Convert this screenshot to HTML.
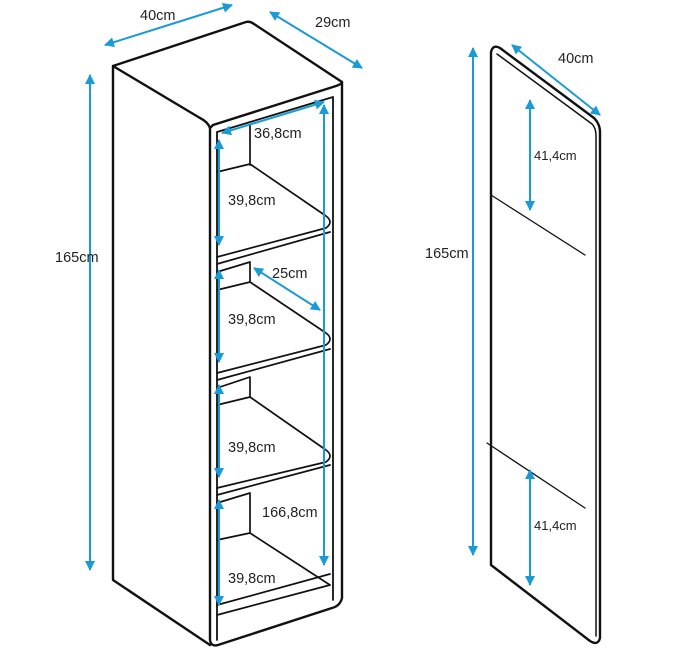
<!DOCTYPE html>
<html><head><style>html,body{margin:0;padding:0;background:#fff}svg{display:block}text{font-family:"Liberation Sans",sans-serif;font-size:14.5px;fill:#222}</style></head>
<body>
<svg width="684" height="650" viewBox="0 0 684 650">
<defs>
<marker id="a" markerWidth="10" markerHeight="10" refX="9" refY="5" orient="auto-start-reverse" markerUnits="userSpaceOnUse"><path d="M0,0 L10,5 L0,10 z" fill="#1a9ad6"/></marker>
</defs>
<g fill="none" stroke="#111" stroke-width="2.4" stroke-linejoin="round" stroke-linecap="round">
<!-- cabinet -->
<path d="M113,66 L246,22 Q250,21 254,24 L342,82 L342,598 Q340,606 332,608 L218,645 Q211,647 210,640 L210,128 Q208,122 200,118 Z"/>
<path d="M113,66 L113,580 L210,645"/>
<path d="M210,128 L213,125 L336,86 Q342,84 342,82"/>
<path d="M217,132 L333,97 L333,600 M217,132 L217,640" stroke-width="1.8"/>
<!-- compartments -->
<path stroke-width="1.7" d="M250,125 L250,165 M217,172 L250,164 L326,216 Q334,222 326,228 L217,257 M217,264 L330,232
M217,272 L250,262 L250,282 M217,290 L250,282 L326,333 Q334,339 326,345 L217,373 M217,380 L330,349
M217,388 L250,377 L250,397 M217,405 L250,397 L326,450 Q334,456 326,462 L217,488 M217,495 L330,465
M217,503 L250,493 L250,533 M217,540 L250,533 L330,585 L217,615 M217,605 L330,574"/>
<!-- right panel -->
<path d="M491,52 Q493,44 500,48 L594,118 Q600,124 600,132 L600,638 Q598,646 590,641 L491,565 Z"/>
<path d="M497,54 L592,124 Q596,128 596,136 L596,636" stroke-width="1.5"/>
<path d="M491,195 L585,255 M487,443 L585,508" stroke-width="1.3"/>
</g>
<g stroke="#1a9ad6" stroke-width="2" fill="none" marker-start="url(#a)" marker-end="url(#a)">
<line x1="105" y1="45" x2="232" y2="5"/>
<line x1="270" y1="12" x2="362" y2="68"/>
<line x1="90" y1="75" x2="90" y2="570"/>
<line x1="222" y1="133" x2="324" y2="102"/>
<line x1="219" y1="140" x2="219" y2="245"/>
<line x1="219" y1="270" x2="219" y2="362"/>
<line x1="219" y1="385" x2="219" y2="477"/>
<line x1="219" y1="500" x2="219" y2="605"/>
<line x1="324" y1="105" x2="324" y2="565"/>
<line x1="254" y1="268" x2="320" y2="310"/>
<line x1="473" y1="48" x2="473" y2="555"/>
<line x1="512" y1="45" x2="600" y2="115"/>
<line x1="530" y1="100" x2="530" y2="210"/>
<line x1="530" y1="470" x2="530" y2="585"/>
</g>
<text x="140" y="20">40cm</text>
<text x="315" y="27">29cm</text>
<text x="55" y="262">165cm</text>
<text x="254" y="138">36,8cm</text>
<text x="228" y="205">39,8cm</text>
<text x="272" y="278">25cm</text>
<text x="228" y="324">39,8cm</text>
<text x="228" y="452">39,8cm</text>
<text x="262" y="517">166,8cm</text>
<text x="228" y="583">39,8cm</text>
<text x="425" y="258">165cm</text>
<text x="558" y="63">40cm</text>
<text x="534" y="160" style="font-size:13px">41,4cm</text>
<text x="534" y="530" style="font-size:13px">41,4cm</text>
</svg>
</body></html>
